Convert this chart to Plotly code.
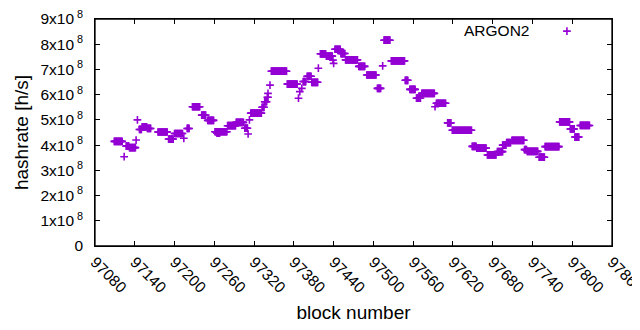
import plotly.graph_objects as go

# Runs of consecutive blocks sharing one hashrate value (units of 1e8 h/s)
run_start = [97109, 97127, 97132, 97147, 97151, 97159, 97175, 97191, 97200, 97219,
             97227, 97241, 97250, 97261, 97264, 97280, 97293, 97306, 97315, 97332,
             97336, 97340, 97346, 97370, 97394, 97400, 97407, 97420, 97429, 97442,
             97451, 97458, 97478, 97490, 97506, 97516, 97527, 97548, 97555, 97565,
             97573, 97595, 97612, 97619, 97649, 97656, 97672, 97687, 97695, 97701,
             97709, 97728, 97732, 97750, 97759, 97781, 97797, 97804, 97812]
run_end   = [97121, 97131, 97141, 97150, 97158, 97164, 97189, 97198, 97212, 97222,
             97238, 97247, 97259, 97279, 97268, 97292, 97304, 97310, 97331, 97335,
             97339, 97341, 97369, 97385, 97398, 97406, 97416, 97428, 97438, 97450,
             97457, 97476, 97487, 97504, 97511, 97525, 97547, 97552, 97563, 97571,
             97592, 97609, 97617, 97648, 97655, 97670, 97685, 97695, 97700, 97707,
             97727, 97731, 97748, 97758, 97780, 97796, 97803, 97810, 97826]
run_value = [4.15, 3.96, 3.90, 4.62, 4.72, 4.66, 4.52, 4.24, 4.46, 4.66,
             5.52, 5.19, 4.98, 4.53, 4.47, 4.77, 4.90, 4.67, 5.27, 5.50,
             5.72, 5.90, 6.93, 6.42, 6.52, 6.73, 6.49, 7.62, 7.53, 7.80,
             7.63, 7.38, 7.12, 6.78, 6.25, 8.16, 7.34, 6.57, 6.21, 5.86,
             6.05, 5.66, 4.88, 4.59, 3.95, 3.88, 3.61, 3.74, 4.00, 4.10,
             4.19, 3.82, 3.75, 3.52, 3.94, 4.92, 4.64, 4.32, 4.78]

# Isolated blocks
single_block = [97124, 97142, 97144, 97214, 97311, 97313, 97341, 97344, 97387, 97389,
                97392, 97417, 97439, 97440, 97514, 97593]
single_value = [3.54, 4.20, 5.00, 4.27, 4.44, 5.00, 6.05, 6.38, 5.86, 6.12,
                6.25, 7.05, 7.37, 7.24, 7.14, 5.52]

x_ticks = [97080 + 60 * i for i in range(14)]
y_ticks = [i * 1e8 for i in range(10)]
y_tick_text = ["0\u2002"] + [f"{i}x10<sup> 8</sup>\u2002" for i in range(1, 10)]

xs, ys = [], []
for s, e, v in zip(run_start, run_end, run_value):
    for b in range(s, e + 1):
        xs.append(b)
        ys.append(v * 1e8)
for b, v in zip(single_block, single_value):
    xs.append(b)
    ys.append(v * 1e8)

color = "#9400D3"
mk = dict(symbol="cross-thin", size=5.5, color=color, line=dict(color=color, width=1.6))
fig = go.Figure()
fig.add_trace(go.Scatter(x=xs, y=ys, mode="markers", name="ARGON2",
                         showlegend=False, marker=mk, cliponaxis=False))
# legend sample
fig.add_trace(go.Scatter(x=[97792], y=[8.52e8], mode="markers", showlegend=False,
                         hoverinfo="skip", marker=mk))
fig.add_annotation(x=(531 - 95) / 517, y=(246 - 31) / 227, xref="paper", yref="paper",
                   text="ARGON2", showarrow=False, xanchor="right", yanchor="middle")
# plot frame
fig.add_shape(type="rect", xref="paper", yref="paper", x0=0, y0=0, x1=1, y1=1,
              line=dict(color="black", width=1.3), layer="above")

font = dict(family="Liberation Sans, Arial, sans-serif", size=15.5, color="#000")
fig.update_layout(
    width=640, height=330,
    margin=dict(l=87, r=36, t=11, b=92),
    paper_bgcolor="white", plot_bgcolor="white",
    font=font,
    xaxis=dict(range=[97080, 97860], tickvals=x_ticks, ticktext=[str(t) for t in x_ticks],
               tickangle=45, ticks="inside", ticklen=5, tickcolor="black",
               showline=True, linecolor="black", linewidth=1, mirror="allticks",
               showgrid=False, zeroline=False, automargin=False,
               ticklabeloverflow="allow",
               title=dict(text="block number", standoff=10)),
    yaxis=dict(range=[0, 9e8], tickvals=y_ticks, ticktext=y_tick_text,
               ticks="inside", ticklen=5, tickcolor="black",
               showline=True, linecolor="black", linewidth=1, mirror="allticks",
               showgrid=False, zeroline=False, automargin=False,
               ticklabeloverflow="allow",
               title=dict(text="hashrate [h/s]", standoff=6)),
)
fig.write_html("out.html")
